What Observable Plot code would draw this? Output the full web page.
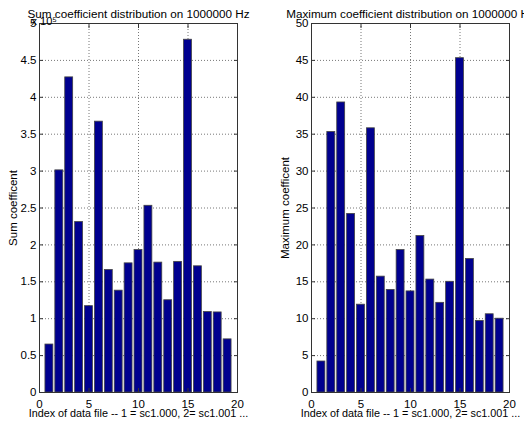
<!DOCTYPE html>
<html>
<head>
<meta charset="utf-8">
<script src="https://cdn.jsdelivr.net/npm/d3@7"></script>
<script src="https://cdn.jsdelivr.net/npm/@observablehq/plot@0.6"></script>
<style>
  html, body { margin: 0; padding: 0; background: white; }
  #fig { display: flex; width: 524px; height: 425px; background: white; }
</style>
</head>
<body>
<div id="fig"></div>
<script>
const fileIndex = [1,2,3,4,5,6,7,8,9,10,11,12,13,14,15,16,17,18,19];
const sumCoeff = [0.65,3.01,4.27,2.31,1.17,3.67,1.66,1.38,1.75,1.93,2.53,1.76,1.25,1.77,4.78,1.71,1.09,1.085,0.72];
const maxCoeff = [4.2,35.3,39.3,24.2,11.9,35.8,15.7,13.9,19.3,13.7,21.2,15.3,12.15,15.0,45.3,18.1,9.7,10.6,10.0];
const xTicks = [0,5,10,15,20];
const sumTicks = [0,0.5,1,1.5,2,2.5,3,3.5,4,4.5,5];
const sumTickLabels = ["0","0.5","1","1.5","2","2.5","3","3.5","4","4.5","5"];
const maxTicks = [0,5,10,15,20,25,30,35,40,45,50];
const maxTickLabels = ["0","5","10","15","20","25","30","35","40","45","50"];
const titles = ["Sum coefficient distribution on 1000000 Hz", "Maximum coefficient distribution on 1000000 Hz"];
const yLabels = ["Sum coefficent", "Maximum coefficent"];
const xLabel = "Index of data file -- 1 = sc1.000, 2= sc1.001 ...";
const exponentLabel = "x 10\u2075";

const barWidth = 0.8;
const font = "'Liberation Sans', Arial, Helvetica, sans-serif";

function panel({values, yTicks, yTickLabels, title, ylabel, marginLeft, marginRight, exponent}) {
  const data = fileIndex.map((i, k) => ({i, v: values[k]}));
  const yMax = yTicks[yTicks.length - 1];
  const fmt = d => yTickLabels[yTicks.indexOf(d)];
  const marks = [
    Plot.gridX(xTicks, {stroke: "#777", strokeOpacity: 1, strokeDasharray: "1,2"}),
    Plot.gridY(yTicks, {stroke: "#777", strokeOpacity: 1, strokeDasharray: "1,2"}),
    Plot.rectY(data, {x1: d => d.i - barWidth / 2, x2: d => d.i + barWidth / 2, y: "v", fill: "#00008F", stroke: "#444", strokeWidth: 0.8}),
    Plot.frame({stroke: "#333"}),
    Plot.axisX(xTicks, {anchor: "bottom", tickSize: -4, tickPadding: 11, label: null, tickFormat: d => String(d), stroke: "#333", fill: "#000", fontSize: 11.5}),
    Plot.axisX(xTicks, {anchor: "top", tickSize: -4, label: null, tickFormat: () => "", stroke: "#333"}),
    Plot.axisY(yTicks, {anchor: "left", tickSize: -4, tickPadding: 7, label: null, tickFormat: fmt, stroke: "#333", fill: "#000", fontSize: 11.5}),
    Plot.axisY(yTicks, {anchor: "right", tickSize: -4, label: null, tickFormat: () => "", stroke: "#333"}),
    Plot.text([title], {text: d => d, frameAnchor: "top", dy: -14, fontSize: 11.7, fill: "#000"}),
    Plot.text([xLabel], {text: d => d, frameAnchor: "bottom", dy: 24, fontSize: 10.8, fill: "#000"}),
    Plot.text([ylabel], {text: d => d, frameAnchor: "left", textAnchor: "middle", dx: -26, rotate: -90, fontSize: 11.5, fill: "#000"})
  ];
  if (exponent) {
    marks.push(Plot.text([exponent], {text: d => d, frameAnchor: "top-left", textAnchor: "start", dx: -8, dy: -6, fontSize: 11, fill: "#000"}));
  }
  return Plot.plot({
    width: 262,
    height: 425,
    marginLeft, marginRight,
    marginTop: 23,
    marginBottom: 33,
    x: {domain: [0, 20]},
    y: {domain: [0, yMax]},
    style: {fontFamily: font, fontSize: "11.5px", background: "white", overflow: "visible", color: "#000"},
    marks
  });
}

const fig = document.getElementById("fig");
fig.appendChild(panel({values: sumCoeff, yTicks: sumTicks, yTickLabels: sumTickLabels, title: titles[0], ylabel: yLabels[0], marginLeft: 39, marginRight: 25, exponent: exponentLabel}));
fig.appendChild(panel({values: maxCoeff, yTicks: maxTicks, yTickLabels: maxTickLabels, title: titles[1], ylabel: yLabels[1], marginLeft: 49, marginRight: 15}));
</script>
</body>
</html>
